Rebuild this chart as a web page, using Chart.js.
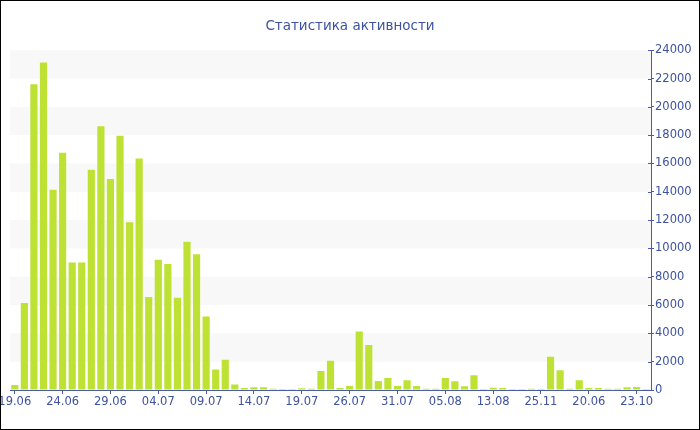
<!DOCTYPE html>
<html>
<head>
<meta charset="utf-8">
<script src="https://cdn.jsdelivr.net/npm/chart.js@4"></script>
<style>
html,body{margin:0;padding:0;background:#fff;}
#wrap{width:700px;height:430px;box-sizing:border-box;border:1px solid #000;}
canvas{display:block;}
</style>
</head>
<body>
<div id="wrap"><canvas id="c" width="698" height="428"></canvas></div>
<script>
const titleText = 'Статистика активности';
const categories = [
  '19.06','20.06','21.06','22.06','23.06','24.06','25.06','26.06','27.06','28.06',
  '29.06','30.06','01.07','02.07','03.07','04.07','05.07','06.07','07.07','08.07',
  '09.07','10.07','11.07','12.07','13.07','14.07','15.07','16.07','17.07','18.07',
  '19.07','20.07','21.07','23.07','24.07','26.07','27.07','28.07','29.07','30.07',
  '31.07','01.08','02.08','03.08','04.08','05.08','06.08','08.08','10.08','12.08',
  '13.08','20.08','03.09','15.10','10.11','25.11','26.11','27.11','12.12','15.03',
  '20.06','15.07','30.08','10.09','02.10','23.10','05.11'
];
const activity = [
  350, 6150, 21600, 23130, 14140, 16750, 9010, 9010, 15550, 18630,
  14900, 17950, 11840, 16350, 6570, 9200, 8900, 6520, 10470, 9580,
  5200, 1440, 2140, 380, 140, 190, 190, 90, 70, 70,
  120, 90, 1340, 2070, 140, 280, 4140, 3180, 640, 850,
  280, 680, 280, 90, 90, 850, 620, 260, 1040, 70,
  160, 140, 70, 70, 90, 70, 2350, 1390, 90, 680,
  140, 140, 90, 90, 190, 210, 70
];
const yTickValues = [0,2000,4000,6000,8000,10000,12000,14000,16000,18000,20000,22000,24000];

const axisColor = '#4a5ca8';
const textColor = '#3d52a1';
const fontFamily = '"DejaVu Sans", Verdana, sans-serif';

const bandsPlugin = {
  id: 'bands',
  beforeDatasetsDraw(chart) {
    const {ctx, chartArea, scales} = chart;
    const y = scales.y;
    ctx.save();
    ctx.fillStyle = '#f8f8f8';
    for (let v = 2000; v < 24000; v += 4000) {
      const top = y.getPixelForValue(v + 2000);
      const bot = y.getPixelForValue(v);
      ctx.fillRect(chartArea.left, top, chartArea.right - chartArea.left, bot - top);
    }
    ctx.restore();
  }
};

const innerTicksPlugin = {
  id: 'innerTicks',
  afterDraw(chart) {
    const {ctx, chartArea, scales} = chart;
    const y = scales.y;
    ctx.save();
    ctx.strokeStyle = axisColor;
    ctx.lineWidth = 1;
    y.ticks.forEach(t => {
      const py = Math.round(y.getPixelForValue(t.value)) + 0.5;
      ctx.beginPath();
      ctx.moveTo(chartArea.right - 3, py);
      ctx.lineTo(chartArea.right, py);
      ctx.stroke();
    });
    ctx.restore();
  }
};

new Chart(document.getElementById('c'), {
  type: 'bar',
  data: {
    labels: categories,
    datasets: [{
      data: activity,
      backgroundColor: '#bee233',
      borderWidth: 0,
      barPercentage: 0.75,
      categoryPercentage: 1.0
    }]
  },
  options: {
    responsive: false,
    animation: false,
    devicePixelRatio: 1,
    layout: { padding: { left: 0, right: 0, top: 0, bottom: 0 } },
    plugins: {
      legend: { display: false },
      tooltip: { enabled: false },
      title: {
        display: true,
        text: titleText,
        color: textColor,
        font: { family: fontFamily, size: 13.5, weight: 'normal' },
        padding: { top: 17, bottom: 16 }
      }
    },
    scales: {
      x: {
        offset: true,
        grid: {
          display: true,
          offset: false,
          drawOnChartArea: false,
          drawTicks: true,
          tickLength: 4,
          tickColor: (c) => (c.index % 5 === 0 ? axisColor : 'rgba(0,0,0,0)')
        },
        border: { display: true, color: axisColor, width: 1 },
        ticks: {
          autoSkip: false,
          maxRotation: 0,
          minRotation: 0,
          padding: 1,
          color: textColor,
          font: { family: fontFamily, size: 11.5 },
          callback: function(value, index) { return index % 5 === 0 ? categories[index] : ''; }
        },
        afterFit(scale) { scale.paddingLeft = 9; scale.paddingRight = 0; scale.height = 39; }
      },
      y: {
        position: 'right',
        min: 0,
        max: 24000,
        grid: {
          display: true,
          drawOnChartArea: false,
          drawTicks: true,
          tickLength: 3,
          tickColor: (c) => (c.tick && c.tick.value % 2000 === 0 ? axisColor : 'rgba(0,0,0,0)')
        },
        border: { display: true, color: axisColor, width: 1 },
        ticks: {
          stepSize: 1000,
          padding: 1,
          color: textColor,
          font: { family: fontFamily, size: 11.5 },
          callback: (v) => (yTickValues.includes(v) ? String(v) : '')
        },
        afterFit(scale) { scale.width = 48; }
      }
    }
  },
  plugins: [bandsPlugin, innerTicksPlugin]
});
</script>
</body>
</html>
